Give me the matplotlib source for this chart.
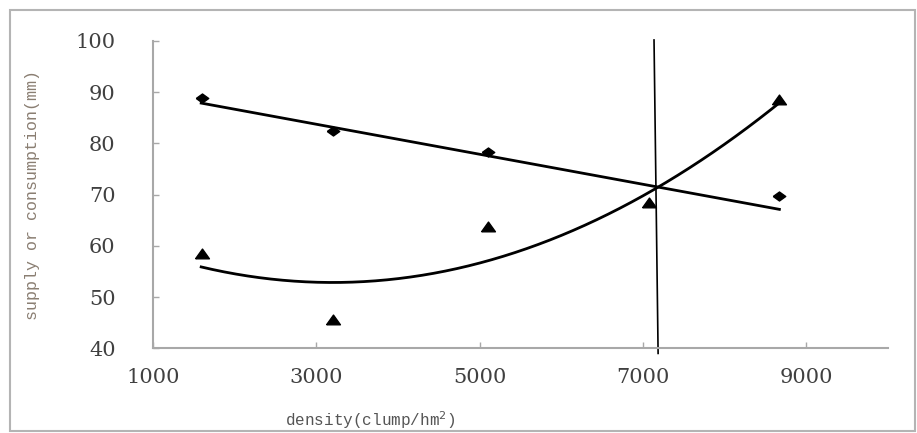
import numpy as np
import matplotlib
matplotlib.use('Agg')
import matplotlib.pyplot as plt
from matplotlib.patches import Rectangle

# supply (diamonds) and consumption (triangles) vs. density
supply_x = [1600, 3200, 5100, 8660]
supply_y = [88.9, 82.5, 78.3, 69.7]
cons_x = [1600, 3200, 5100, 7070, 8660]
cons_y = [58.4, 45.5, 63.6, 68.3, 88.5]

# trend lines (polynomial coefficients, highest power first)
supply_fit = [-2.931e-3, 92.54]
cons_fit = [1.172e-6, -7.50e-3, 64.85]
fit_range = [1590, 8670]

# balance line (slightly slanted in the original)
balance_x = [7135, 7185]
balance_y = [100.2, 39.0]

xticks = [1000, 3000, 5000, 7000, 9000]
yticks = [40, 50, 60, 70, 80, 90, 100]

# the original is stretched sideways, so use wide markers
diamond = [(-1, 0), (0, 0.72), (1, 0), (0, -0.72), (-1, 0)]
triangle = [(-1, -0.62), (1, -0.62), (0, 0.78), (-1, -0.62)]

fig = plt.figure(figsize=(9.17, 4.33), dpi=100)
ax = fig.add_axes([153/917, 1 - 348.3/433, (888 - 153)/917, (348.3 - 41)/433])

xs = np.linspace(fit_range[0], fit_range[1], 200)
ax.plot(xs, np.polyval(supply_fit, xs), '-', color='black', lw=2)
ax.plot(xs, np.polyval(cons_fit, xs), '-', color='black', lw=2)
ax.plot(supply_x, supply_y, marker=diamond, color='black', ms=9, ls='none')
ax.plot(cons_x, cons_y, marker=triangle, color='black', ms=10, ls='none')
ax.plot(balance_x, balance_y, '-', color='black', lw=1.2, clip_on=False)

ax.set_xlim(1000, 10000)
ax.set_ylim(40, 100)
ax.set_xticks(xticks)
ax.set_yticks(yticks)
for s in ['top', 'right']:
    ax.spines[s].set_visible(False)
for s in ['left', 'bottom']:
    ax.spines[s].set_color('#a8a8a8')
    ax.spines[s].set_linewidth(1.5)
ax.tick_params(direction='in', length=4, width=1, color='#a8a8a8',
               labelsize=15, labelcolor='#404040')
ax.tick_params(axis='y', pad=27)
ax.tick_params(axis='x', pad=14)
for lab in ax.get_xticklabels() + ax.get_yticklabels():
    lab.set_family('DejaVu Serif')

fig.text(33/917, 1 - 195/433, 'supply or consumption(mm)', rotation=90,
         ha='center', va='center', family='Liberation Mono', fontsize=12,
         color='#8a7e72')
fig.text(370/917, 1 - 420/433, 'density(clump/hm$^2$)', ha='center',
         va='center', family='Liberation Mono', fontsize=11.5, color='#555555')

fig.patches.append(Rectangle((10/917, 1 - 431/433), 905/917, 421/433,
                             transform=fig.transFigure, fill=False,
                             edgecolor='#b4b4b4', lw=1.5))

plt.savefig('out.png', dpi=100)
